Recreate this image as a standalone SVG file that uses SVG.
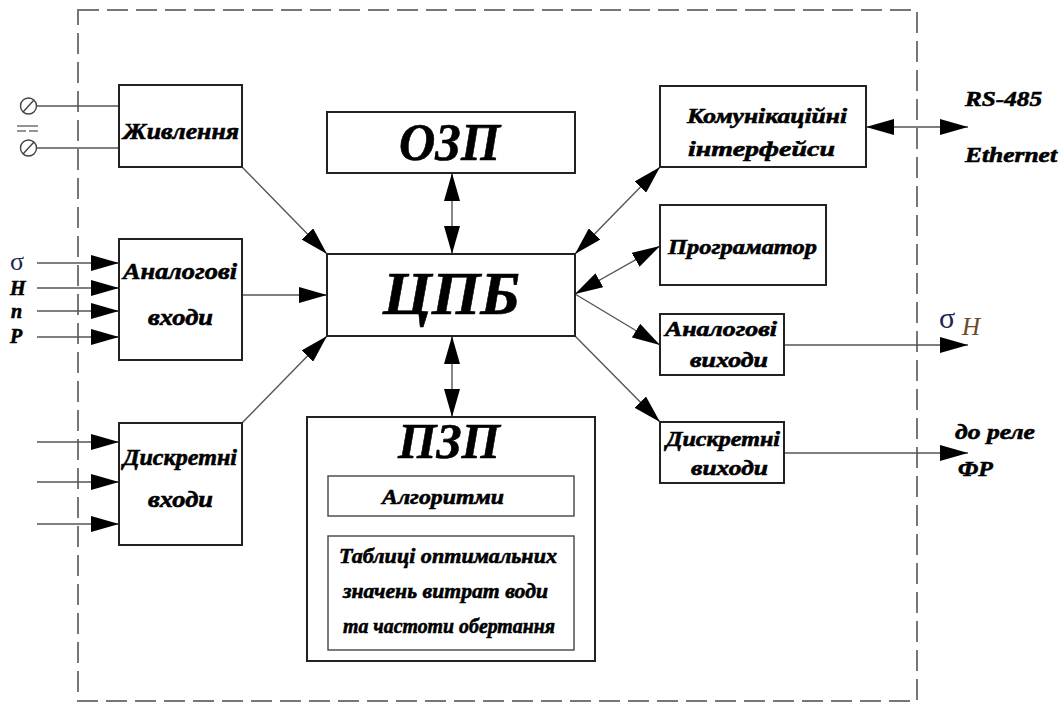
<svg xmlns="http://www.w3.org/2000/svg" width="1062" height="704" viewBox="0 0 1062 704">
<style>
.box{fill:#fff;stroke:#222;stroke-width:2}
.inner{fill:none;stroke:#444;stroke-width:1.4}
.ln{fill:none;stroke:#555;stroke-width:1.4}
.bd{fill:none;stroke:#777;stroke-width:2;stroke-dasharray:21 8}
.t{font-family:"Liberation Serif","DejaVu Serif","Times New Roman",serif;font-weight:bold;font-style:italic;fill:#000;stroke:#000;stroke-width:0.6}
.s{font-family:"Liberation Serif","DejaVu Serif",serif;fill:#1b2550}
</style>
<defs>
<marker id="ah" markerUnits="userSpaceOnUse" markerWidth="28" markerHeight="16" refX="28" refY="8" orient="auto-start-reverse">
<path d="M0,0 L28,8 L0,16 Z" fill="#000"/>
</marker>
</defs>
<rect width="1062" height="704" fill="#fff"/>
<rect class="bd" x="78" y="10" width="839" height="691"/>

<g id="connectors">
<line class="ln" x1="37" y1="106" x2="119" y2="106"/>
<line class="ln" x1="37" y1="148" x2="119" y2="148"/>
<line class="ln" x1="37" y1="263" x2="119" y2="263" marker-end="url(#ah)"/>
<line class="ln" x1="37" y1="288" x2="119" y2="288" marker-end="url(#ah)"/>
<line class="ln" x1="37" y1="311" x2="119" y2="311" marker-end="url(#ah)"/>
<line class="ln" x1="37" y1="337" x2="119" y2="337" marker-end="url(#ah)"/>
<line class="ln" x1="37" y1="442" x2="119" y2="442" marker-end="url(#ah)"/>
<line class="ln" x1="37" y1="482" x2="119" y2="482" marker-end="url(#ah)"/>
<line class="ln" x1="37" y1="524" x2="119" y2="524" marker-end="url(#ah)"/>
<line class="ln" x1="242" y1="167" x2="327" y2="254" marker-end="url(#ah)"/>
<line class="ln" x1="242" y1="295" x2="327" y2="295" marker-end="url(#ah)"/>
<line class="ln" x1="242" y1="423" x2="327" y2="336" marker-end="url(#ah)"/>
<line class="ln" x1="452" y1="173" x2="452" y2="254" marker-start="url(#ah)" marker-end="url(#ah)"/>
<line class="ln" x1="452" y1="336" x2="452" y2="417" marker-start="url(#ah)" marker-end="url(#ah)"/>
<line class="ln" x1="575" y1="254" x2="660" y2="167" marker-start="url(#ah)" marker-end="url(#ah)"/>
<line class="ln" x1="575" y1="294" x2="660" y2="246" marker-start="url(#ah)" marker-end="url(#ah)"/>
<line class="ln" x1="575" y1="294" x2="660" y2="345" marker-end="url(#ah)"/>
<line class="ln" x1="575" y1="336" x2="660" y2="422" marker-end="url(#ah)"/>
<line class="ln" x1="866" y1="127" x2="968" y2="127" marker-start="url(#ah)" marker-end="url(#ah)"/>
<line class="ln" x1="784" y1="345" x2="968" y2="345" marker-end="url(#ah)"/>
<line class="ln" x1="784" y1="453" x2="968" y2="453" marker-end="url(#ah)"/>
</g>

<g id="power-terminals">
<circle cx="28.5" cy="106" r="8" fill="#fff" stroke="#444" stroke-width="1.4"/>
<line x1="23" y1="112" x2="34" y2="100" stroke="#444" stroke-width="1.4"/>
<circle cx="28.5" cy="148" r="8" fill="#fff" stroke="#444" stroke-width="1.4"/>
<line x1="23" y1="154" x2="34" y2="142" stroke="#444" stroke-width="1.4"/>
<line x1="17" y1="126" x2="38" y2="126" stroke="#666" stroke-width="1.4"/>
<line x1="17" y1="131" x2="26" y2="131" stroke="#666" stroke-width="1.4"/>
<line x1="29" y1="131" x2="38" y2="131" stroke="#666" stroke-width="1.4"/>
</g>

<g id="input-labels">
<text class="s" x="10" y="270" font-size="26">σ</text>
<text class="t" x="10" y="295" font-size="20">H</text>
<text class="t" x="11" y="318" font-size="20">n</text>
<text class="t" x="10" y="343" font-size="20">P</text>
</g>

<g id="zhyvlennia">
<rect class="box" x="119" y="85" width="123" height="82"/>
<text class="t" x="123" y="139" font-size="24" textLength="116" lengthAdjust="spacingAndGlyphs">Живлення</text>
</g>

<g id="analog-inputs">
<rect class="box" x="119" y="239" width="123" height="121"/>
<text class="t" x="123" y="279" font-size="24" textLength="114" lengthAdjust="spacingAndGlyphs">Аналогові</text>
<text class="t" x="148" y="325" font-size="24" textLength="65" lengthAdjust="spacingAndGlyphs">входи</text>
</g>

<g id="discrete-inputs">
<rect class="box" x="119" y="423" width="123" height="122"/>
<text class="t" x="123" y="465" font-size="24" textLength="114" lengthAdjust="spacingAndGlyphs">Дискретні</text>
<text class="t" x="148" y="507" font-size="24" textLength="65" lengthAdjust="spacingAndGlyphs">входи</text>
</g>

<g id="ozp">
<rect class="box" x="327" y="112" width="248" height="61"/>
<text class="t" x="399" y="160" font-size="52" textLength="101" lengthAdjust="spacingAndGlyphs">ОЗП</text>
</g>

<g id="cpb">
<rect class="box" x="327" y="254" width="248" height="82"/>
<text class="t" x="383" y="314" font-size="62" textLength="137" lengthAdjust="spacingAndGlyphs">ЦПБ</text>
</g>

<g id="pzp">
<rect class="box" x="307" y="417" width="288" height="244"/>
<text class="t" x="398" y="458" font-size="50" textLength="102" lengthAdjust="spacingAndGlyphs">ПЗП</text>
<rect class="inner" x="328" y="476" width="246" height="40"/>
<text class="t" x="382" y="504" font-size="22" textLength="122" lengthAdjust="spacingAndGlyphs">Алгоритми</text>
<rect class="inner" x="328" y="536" width="246" height="114"/>
<text class="t" x="339" y="563" font-size="22" textLength="218" lengthAdjust="spacingAndGlyphs">Таблиці оптимальних</text>
<text class="t" x="343" y="598" font-size="22" textLength="205" lengthAdjust="spacingAndGlyphs">значень витрат води</text>
<text class="t" x="343" y="633" font-size="22" textLength="212" lengthAdjust="spacingAndGlyphs">та частоти обертання</text>
</g>

<g id="comm">
<rect class="box" x="660" y="86" width="206" height="81"/>
<text class="t" x="687" y="123" font-size="22" textLength="160" lengthAdjust="spacingAndGlyphs">Комунікаційні</text>
<text class="t" x="688" y="156" font-size="22" textLength="147" lengthAdjust="spacingAndGlyphs">інтерфейси</text>
</g>

<g id="programator">
<rect class="box" x="660" y="205" width="166" height="80"/>
<text class="t" x="668" y="254" font-size="22" textLength="149" lengthAdjust="spacingAndGlyphs">Програматор</text>
</g>

<g id="analog-outputs">
<rect class="box" x="660" y="314" width="124" height="61"/>
<text class="t" x="665" y="336" font-size="21" textLength="112" lengthAdjust="spacingAndGlyphs">Аналогові</text>
<text class="t" x="690" y="367" font-size="21" textLength="78" lengthAdjust="spacingAndGlyphs">виходи</text>
</g>

<g id="discrete-outputs">
<rect class="box" x="660" y="422" width="124" height="61"/>
<text class="t" x="666" y="446" font-size="21" textLength="114" lengthAdjust="spacingAndGlyphs">Дискретні</text>
<text class="t" x="691" y="475" font-size="21" textLength="77" lengthAdjust="spacingAndGlyphs">виходи</text>
</g>

<g id="external-labels">
<text class="t" x="965" y="106" font-size="22" textLength="77" lengthAdjust="spacingAndGlyphs">RS-485</text>
<text class="t" x="965" y="162" font-size="22" textLength="92" lengthAdjust="spacingAndGlyphs">Ethernet</text>
<text class="s" x="939" y="328" font-size="30">σ</text>
<text x="962" y="335" font-size="25" font-family="Liberation Serif, DejaVu Serif, serif" font-style="italic" fill="#6b4a2a">H</text>
<text class="t" x="955" y="439" font-size="22" textLength="80" lengthAdjust="spacingAndGlyphs">до реле</text>
<text class="t" x="958" y="476" font-size="22" textLength="35" lengthAdjust="spacingAndGlyphs">ФР</text>
</g>
</svg>
